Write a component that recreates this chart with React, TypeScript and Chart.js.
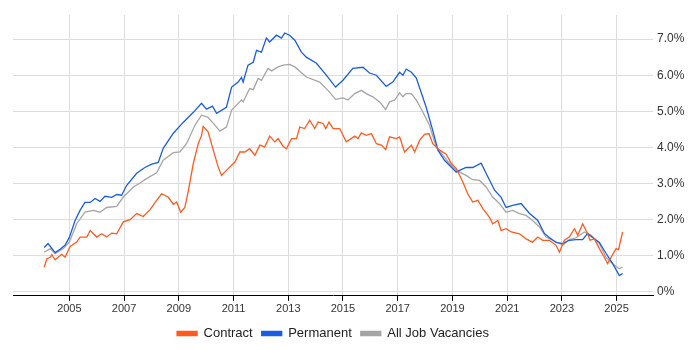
import React, { useEffect, useRef } from "react";
import { Chart, registerables } from "chart.js";

Chart.register(...registerables);

const contractYears = [2004.08,2004.18,2004.30,2004.36,2004.48,2004.72,2004.84,2005.03,2005.27,2005.39,2005.64,2005.76,2006.00,2006.18,2006.36,2006.55,2006.73,2006.97,2007.22,2007.46,2007.70,2007.95,2008.19,2008.37,2008.61,2008.80,2008.92,2009.07,2009.22,2009.34,2009.53,2009.71,2009.83,2009.89,2010.07,2010.26,2010.44,2010.56,2010.86,2011.05,2011.23,2011.41,2011.59,2011.78,2011.96,2012.14,2012.32,2012.51,2012.63,2012.81,2012.93,2013.12,2013.30,2013.42,2013.60,2013.78,2013.97,2014.09,2014.27,2014.37,2014.49,2014.64,2014.88,2015.12,2015.43,2015.55,2015.67,2015.85,2016.04,2016.22,2016.40,2016.56,2016.70,2016.95,2017.07,2017.25,2017.50,2017.62,2017.80,2017.98,2018.14,2018.28,2018.53,2018.77,2018.96,2019.14,2019.38,2019.56,2019.74,2019.93,2020.11,2020.35,2020.47,2020.66,2020.78,2020.96,2021.15,2021.45,2021.69,2021.93,2022.12,2022.30,2022.54,2022.79,2022.91,2023.09,2023.27,2023.46,2023.58,2023.76,2023.94,2024.03,2024.19,2024.37,2024.55,2024.67,2024.80,2024.98,2025.07,2025.22];
const contractValues = [0.68,0.91,0.95,1.02,0.88,1.03,0.95,1.25,1.37,1.51,1.51,1.69,1.51,1.60,1.51,1.62,1.60,1.93,1.99,2.16,2.08,2.27,2.53,2.71,2.62,2.42,2.48,2.20,2.33,2.76,3.55,4.10,4.33,4.58,4.43,3.92,3.45,3.22,3.45,3.59,3.87,3.87,3.96,3.78,4.06,4.01,4.31,4.15,4.24,4.03,3.96,4.24,4.24,4.56,4.52,4.75,4.52,4.70,4.66,4.52,4.70,4.52,4.52,4.15,4.31,4.24,4.40,4.33,4.38,4.10,4.06,3.94,4.29,4.24,4.29,3.87,4.06,3.87,4.19,4.36,4.38,4.10,3.92,3.81,3.55,3.41,3.04,2.71,2.48,2.53,2.30,2.06,1.88,1.97,1.69,1.74,1.65,1.60,1.46,1.37,1.51,1.42,1.42,1.28,1.09,1.42,1.51,1.74,1.56,1.88,1.60,1.42,1.46,1.19,0.95,0.77,0.95,1.19,1.16,1.65];

const permanentYears = [2004.08,2004.22,2004.48,2004.66,2004.84,2005.00,2005.21,2005.39,2005.57,2005.76,2005.94,2006.12,2006.30,2006.55,2006.73,2006.91,2007.09,2007.46,2007.76,2008.01,2008.25,2008.43,2008.80,2009.16,2009.53,2009.83,2010.01,2010.23,2010.38,2010.74,2010.93,2011.17,2011.29,2011.35,2011.53,2011.72,2011.84,2012.02,2012.20,2012.32,2012.57,2012.75,2012.87,2013.05,2013.24,2013.48,2013.66,2014.03,2014.39,2014.73,2015.00,2015.36,2015.73,2015.97,2016.22,2016.58,2016.82,2017.07,2017.19,2017.31,2017.50,2017.68,2018.04,2018.28,2018.47,2018.71,2018.89,2019.14,2019.26,2019.50,2019.74,2020.05,2020.23,2020.54,2020.78,2020.96,2021.20,2021.51,2021.81,2022.12,2022.36,2022.54,2022.79,2023.03,2023.27,2023.52,2023.76,2023.94,2024.12,2024.37,2024.61,2024.85,2025.10,2025.22];
const permanentValues = [1.22,1.33,1.08,1.17,1.28,1.50,1.97,2.25,2.47,2.47,2.58,2.50,2.64,2.61,2.69,2.67,2.94,3.28,3.44,3.53,3.58,3.97,4.39,4.69,4.97,5.22,5.06,5.14,4.94,5.11,5.67,5.81,5.94,5.81,6.28,6.36,6.69,6.64,7.03,6.92,7.11,7.03,7.17,7.11,6.97,6.64,6.50,6.33,6.00,5.67,5.86,6.19,6.22,6.06,6.00,5.69,5.81,6.08,6.00,6.17,6.08,5.92,5.11,4.47,3.92,3.64,3.50,3.31,3.36,3.44,3.44,3.56,3.28,2.81,2.61,2.33,2.39,2.44,2.17,1.97,1.61,1.50,1.36,1.33,1.42,1.44,1.44,1.61,1.50,1.36,1.06,0.78,0.44,0.50];

const allYears = [2004.08,2004.30,2004.48,2004.78,2005.00,2005.27,2005.57,2005.88,2006.12,2006.36,2006.73,2006.97,2007.34,2007.58,2007.82,2008.19,2008.43,2008.80,2009.04,2009.28,2009.59,2009.83,2010.07,2010.38,2010.50,2010.74,2010.93,2011.11,2011.29,2011.35,2011.59,2011.72,2011.90,2012.02,2012.26,2012.39,2012.63,2012.81,2013.05,2013.24,2013.66,2014.15,2014.45,2014.73,2015.00,2015.18,2015.43,2015.67,2015.85,2016.09,2016.34,2016.56,2016.70,2016.89,2017.07,2017.19,2017.31,2017.50,2017.68,2017.92,2018.16,2018.41,2018.65,2018.89,2019.14,2019.50,2019.74,2019.99,2020.23,2020.47,2020.72,2020.96,2021.20,2021.45,2021.69,2021.93,2022.18,2022.42,2022.66,2023.03,2023.27,2023.52,2023.82,2024.07,2024.37,2024.61,2024.85,2025.10,2025.22];
const allValues = [1.09,1.19,1.05,1.19,1.37,1.88,2.20,2.25,2.20,2.33,2.36,2.62,2.90,3.01,3.13,3.29,3.64,3.85,3.87,4.10,4.61,4.89,4.83,4.56,4.45,4.56,5.03,5.17,5.31,5.26,5.63,5.60,5.91,5.86,6.19,6.12,6.23,6.28,6.30,6.23,5.95,5.81,5.58,5.33,5.37,5.31,5.49,5.58,5.49,5.40,5.26,5.05,5.26,5.31,5.51,5.40,5.49,5.49,5.31,4.98,4.61,4.01,3.78,3.55,3.36,3.22,3.10,3.08,2.90,2.62,2.44,2.20,2.25,2.16,2.11,1.97,1.79,1.51,1.42,1.28,1.44,1.49,1.65,1.56,1.33,0.95,0.77,0.63,0.68];

const xTickYears = [2005, 2007, 2009, 2011, 2013, 2015, 2017, 2019, 2021, 2023, 2025];
const yTickValues = [0, 1, 2, 3, 4, 5, 6, 7];

const seriesNames = ["Contract", "Permanent", "All Job Vacancies"];
const seriesColors = ["#ff5a1f", "#1a5ddf", "#a5a5a5"];

const pairs = (xs: number[], ys: number[]) => xs.map((x, i) => ({ x, y: ys[i] }));

export default function App() {
  const ref = useRef<HTMLCanvasElement | null>(null);
  useEffect(() => {
    if (!ref.current) return;
    const font = "'Liberation Sans', Arial, sans-serif";
    const chart = new Chart(ref.current, {
      type: "line",
      data: {
        datasets: [
          { label: seriesNames[0], data: pairs(contractYears, contractValues) },
          { label: seriesNames[1], data: pairs(permanentYears, permanentValues) },
          { label: seriesNames[2], data: pairs(allYears, allValues) },
        ].map((d, i) => ({
          ...d,
          borderColor: seriesColors[i],
          backgroundColor: seriesColors[i],
          borderWidth: 1.3,
          pointRadius: 0,
          tension: 0,
          fill: false,
        })),
      },
      options: {
        animation: false,
        responsive: true,
        maintainAspectRatio: false,
        layout: { padding: { left: 13, top: 15, right: 0, bottom: 0 } },
        plugins: {
          tooltip: { enabled: false },
          legend: {
            position: "bottom",
            fullSize: false,
            labels: {
              boxWidth: 20,
              boxHeight: 4,
              padding: 9,
              color: "#222",
              font: { family: font, size: 13 },
            },
          },
        },
        scales: {
          x: {
            type: "linear",
            min: 2002.94,
            max: 2026.33,
            afterBuildTicks: (scale: any) => {
              scale.ticks = xTickYears.map((v) => ({ value: v }));
            },
            ticks: {
              autoSkip: false,
              maxRotation: 0,
              padding: 2,
              color: "#333",
              font: { family: font, size: 11 },
              callback: (v: any) => String(v),
            },
            grid: {
              color: "#dddddd",
              tickColor: "#000",
              tickLength: 5,
              drawTicks: true,
            },
            border: { color: "#000", width: 1 },
          },
          y: {
            position: "right",
            min: -0.12,
            max: 7.67,
            afterBuildTicks: (scale: any) => {
              scale.ticks = yTickValues.map((v) => ({ value: v }));
            },
            afterFit: (scale: any) => {
              scale.width = 47;
            },
            ticks: {
              padding: 4,
              color: "#333",
              font: { family: font, size: 12 },
              callback: (v: any) => (v === 0 ? "0%" : Number(v).toFixed(1) + "%"),
            },
            grid: { color: "#dddddd", drawTicks: false },
            border: { display: false },
          },
        },
      },
    });
    return () => chart.destroy();
  }, []);
  return (
    <div style={{ position: "absolute", left: 0, top: 0, width: 700, height: 350 }}>
      <canvas ref={ref} />
    </div>
  );
}
